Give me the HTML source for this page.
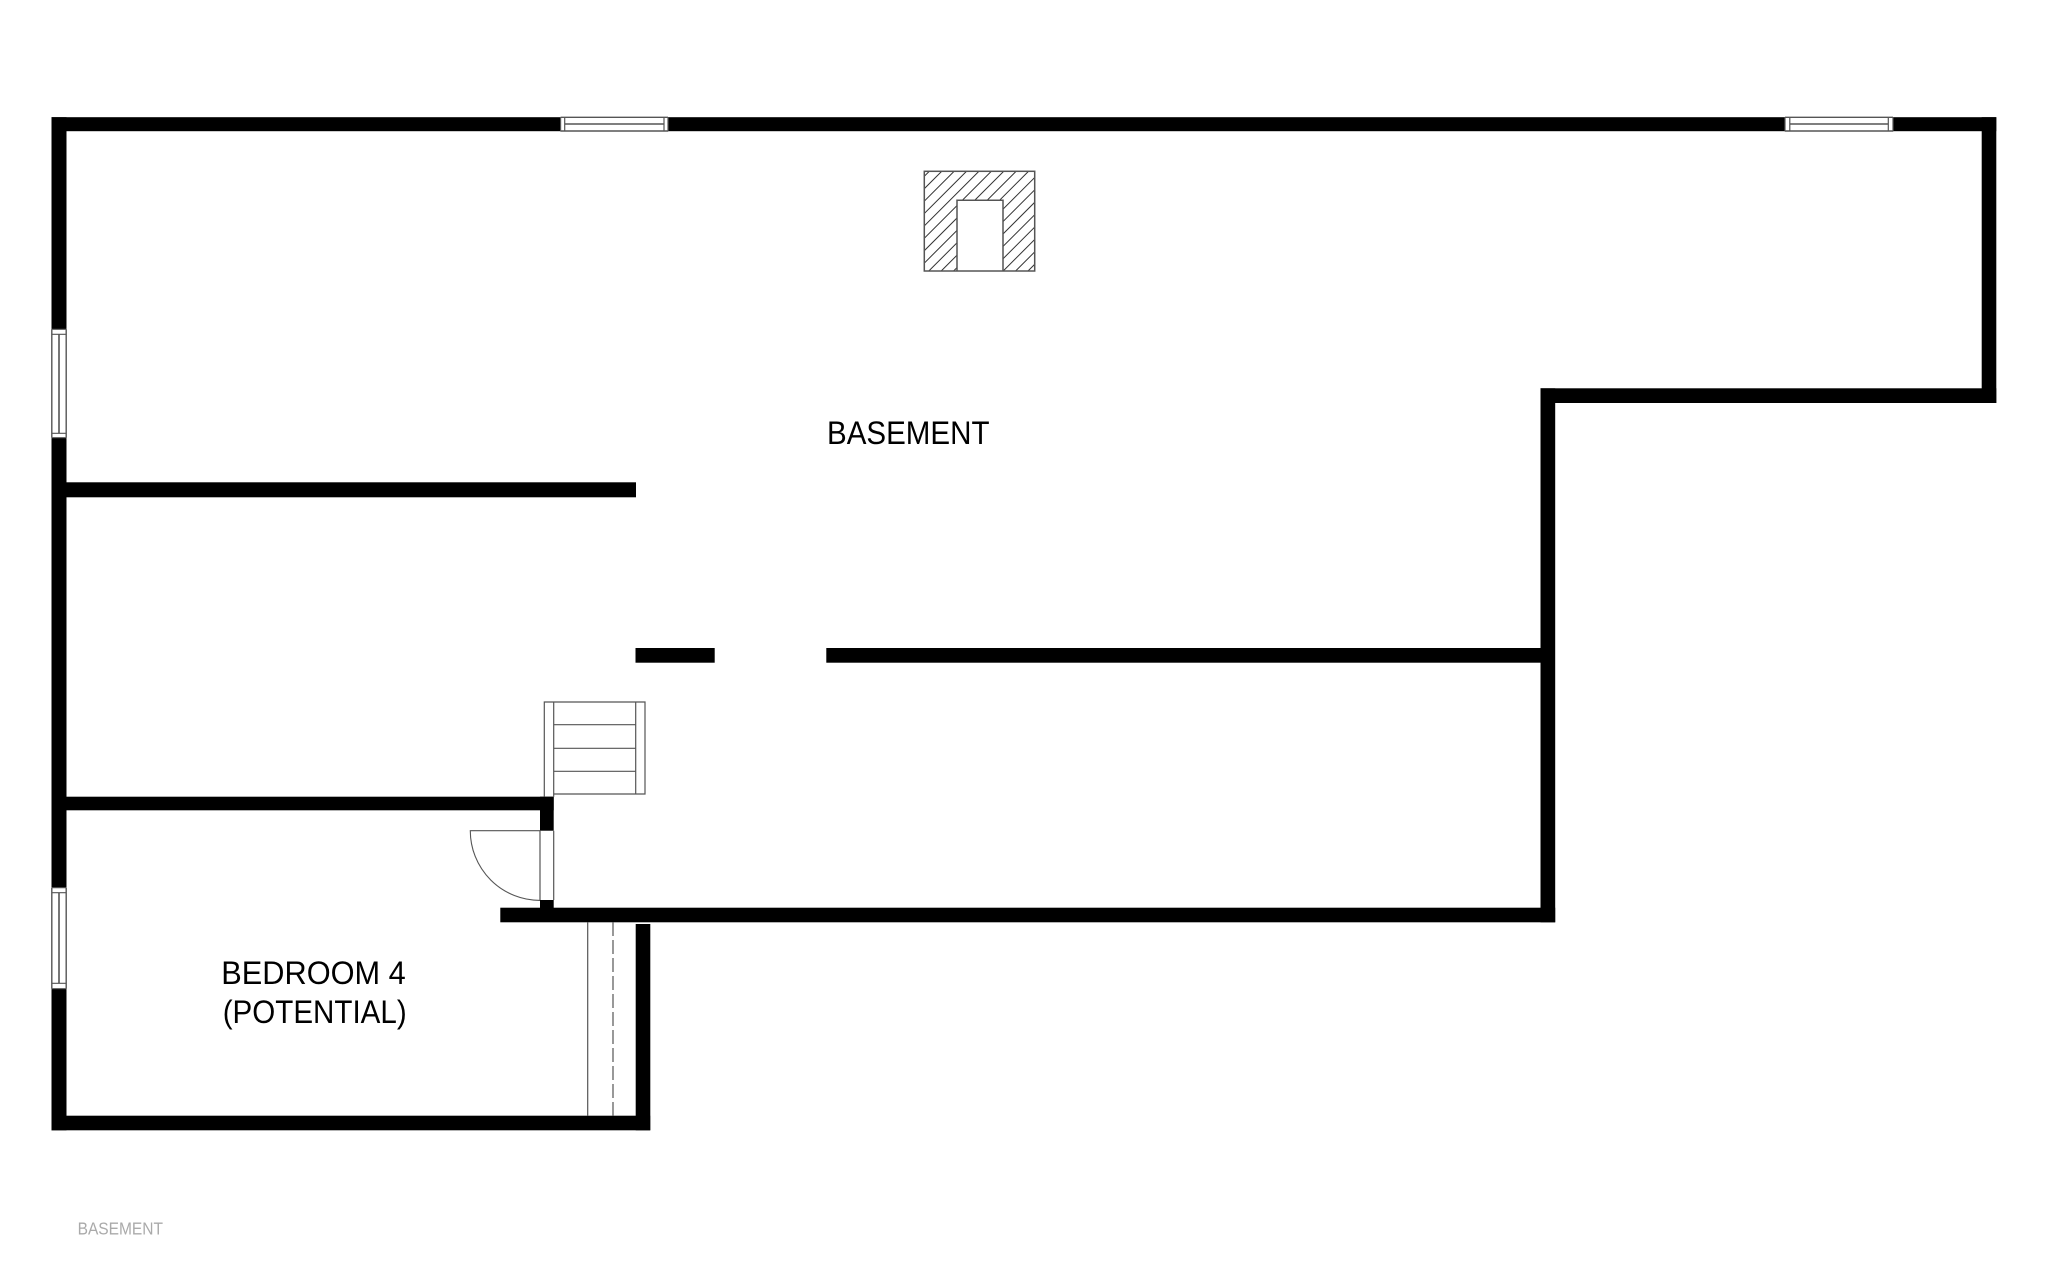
<!DOCTYPE html>
<html>
<head>
<meta charset="utf-8">
<style>
html,body{margin:0;padding:0;background:#fff;width:2048px;height:1279px;overflow:hidden}
svg{display:block}
text{font-family:"Liberation Sans",sans-serif}
</style>
</head>
<body>
<svg width="2048" height="1279" viewBox="0 0 2048 1279" xmlns="http://www.w3.org/2000/svg">
<defs>
<clipPath id="hc"><path clip-rule="evenodd" d="M924.3 171.3H1034.7V271H924.3ZM957 200.3H1003V271H957Z"/></clipPath>
</defs>
<rect width="2048" height="1279" fill="#fff"/>
<g fill="#000">
  <!-- top wall -->
  <rect x="51.5" y="117.2" width="509" height="14"/>
  <rect x="668" y="117.2" width="1117" height="14"/>
  <rect x="1893" y="117.2" width="103.3" height="14"/>
  <!-- right part -->
  <rect x="1981.7" y="117.2" width="14.6" height="285.8"/>
  <rect x="1540.5" y="388.3" width="455.8" height="14.7"/>
  <rect x="1540.5" y="388.3" width="14.7" height="534"/>
  <!-- left wall -->
  <rect x="51.5" y="117.2" width="15" height="212"/>
  <rect x="51.5" y="437.7" width="15" height="450"/>
  <rect x="51.5" y="988.5" width="15" height="141.8"/>
  <!-- partitions -->
  <rect x="51.5" y="482.3" width="584.5" height="15"/>
  <rect x="635.5" y="648" width="79.2" height="14.7"/>
  <rect x="826.3" y="648" width="720" height="14.7"/>
  <rect x="51.5" y="796.7" width="502.2" height="13.6"/>
  <rect x="540" y="796.7" width="13.7" height="34"/>
  <rect x="540" y="900" width="13.7" height="10"/>
  <rect x="500.3" y="907.7" width="1054.9" height="14.6"/>
  <!-- bedroom lower -->
  <rect x="51.5" y="1115.7" width="598.7" height="14.6"/>
  <rect x="635.7" y="924" width="14.6" height="206.3"/>
</g>
<g fill="none" stroke="#555" stroke-width="1.2">
  <!-- top window 1 -->
  <path d="M560.6 117.3H668M560.6 131H668" stroke-width="1.4"/>
  <path d="M564.7 124H664" stroke-width="1.6"/>
  <path d="M560.6 117V131.5M564.7 117V131.5M664 117V131.5M668 117V131.5"/>
  <!-- top window 2 -->
  <path d="M1785 117.3H1893M1785 131H1893" stroke-width="1.4"/>
  <path d="M1789.8 124H1888.3" stroke-width="1.6"/>
  <path d="M1785 117V131.5M1789.8 117V131.5M1888.3 117V131.5M1893 117V131.5"/>
  <!-- left window 1 -->
  <path d="M51.8 329.3V437.7M66.2 329.3V437.7" stroke-width="1.4"/>
  <path d="M59 334.3V433.3" stroke-width="1.6"/>
  <path d="M51.5 329.3H66.5M51.5 334.3H66.5M51.5 433.3H66.5M51.5 437.7H66.5"/>
  <!-- left window 2 -->
  <path d="M51.8 887.7V988.7M66.2 887.7V988.7" stroke-width="1.4"/>
  <path d="M59 892.7V983.3" stroke-width="1.6"/>
  <path d="M51.5 887.7H66.5M51.5 892.7H66.5M51.5 983.3H66.5M51.5 988.7H66.5"/>
  <!-- fireplace -->
  <g clip-path="url(#hc)" stroke="#333" stroke-width="1">
    <path d="M929.6 171L829.6 271M942 171L842 271M954.4 171L854.4 271M966.8 171L866.8 271M979.2 171L879.2 271M991.6 171L891.6 271M1004 171L904 271M1016.4 171L916.4 271M1028.8 171L928.8 271M1041.2 171L941.2 271M1053.6 171L953.6 271M1066 171L966 271M1078.4 171L978.4 271M1090.8 171L990.8 271M1103.2 171L1003.2 271M1115.6 171L1015.6 271M1128 171L1028 271"/>
  </g>
  <rect x="924.3" y="171.3" width="110.4" height="99.7" stroke-width="1.5"/>
  <path d="M957 271V200.3H1003V271" stroke-width="1.5"/>
  <!-- stairs -->
  <path d="M544.3 796.7V702H645V794H553.7"/>
  <path d="M553.7 702V796.7M635.7 702V794"/>
  <path d="M553.7 724.7H635.7M553.7 748.3H635.7M553.7 771.3H635.7"/>
  <!-- door -->
  <path d="M540 830.7V900M553.7 830.7V900"/>
  <path d="M540 830.7H470.3A69.7 69.7 0 0 0 540 900.4" stroke-width="1.1"/>
  <!-- closet lines -->
  <path d="M587.7 922V1116"/>
  <path d="M613 922V1116" stroke-dasharray="14 4"/>
</g>
<g fill="#000" font-size="32.5">
  <text x="827" y="444.2" textLength="162.5" lengthAdjust="spacingAndGlyphs">BASEMENT</text>
  <text x="221.3" y="984.2" textLength="184.5" lengthAdjust="spacingAndGlyphs">BEDROOM 4</text>
  <text x="222.7" y="1023.2" textLength="184" lengthAdjust="spacingAndGlyphs">(POTENTIAL)</text>
</g>
<text x="77.6" y="1234.6" font-size="17.5" fill="#aaa" textLength="85.4" lengthAdjust="spacingAndGlyphs">BASEMENT</text>
</svg>
</body>
</html>
